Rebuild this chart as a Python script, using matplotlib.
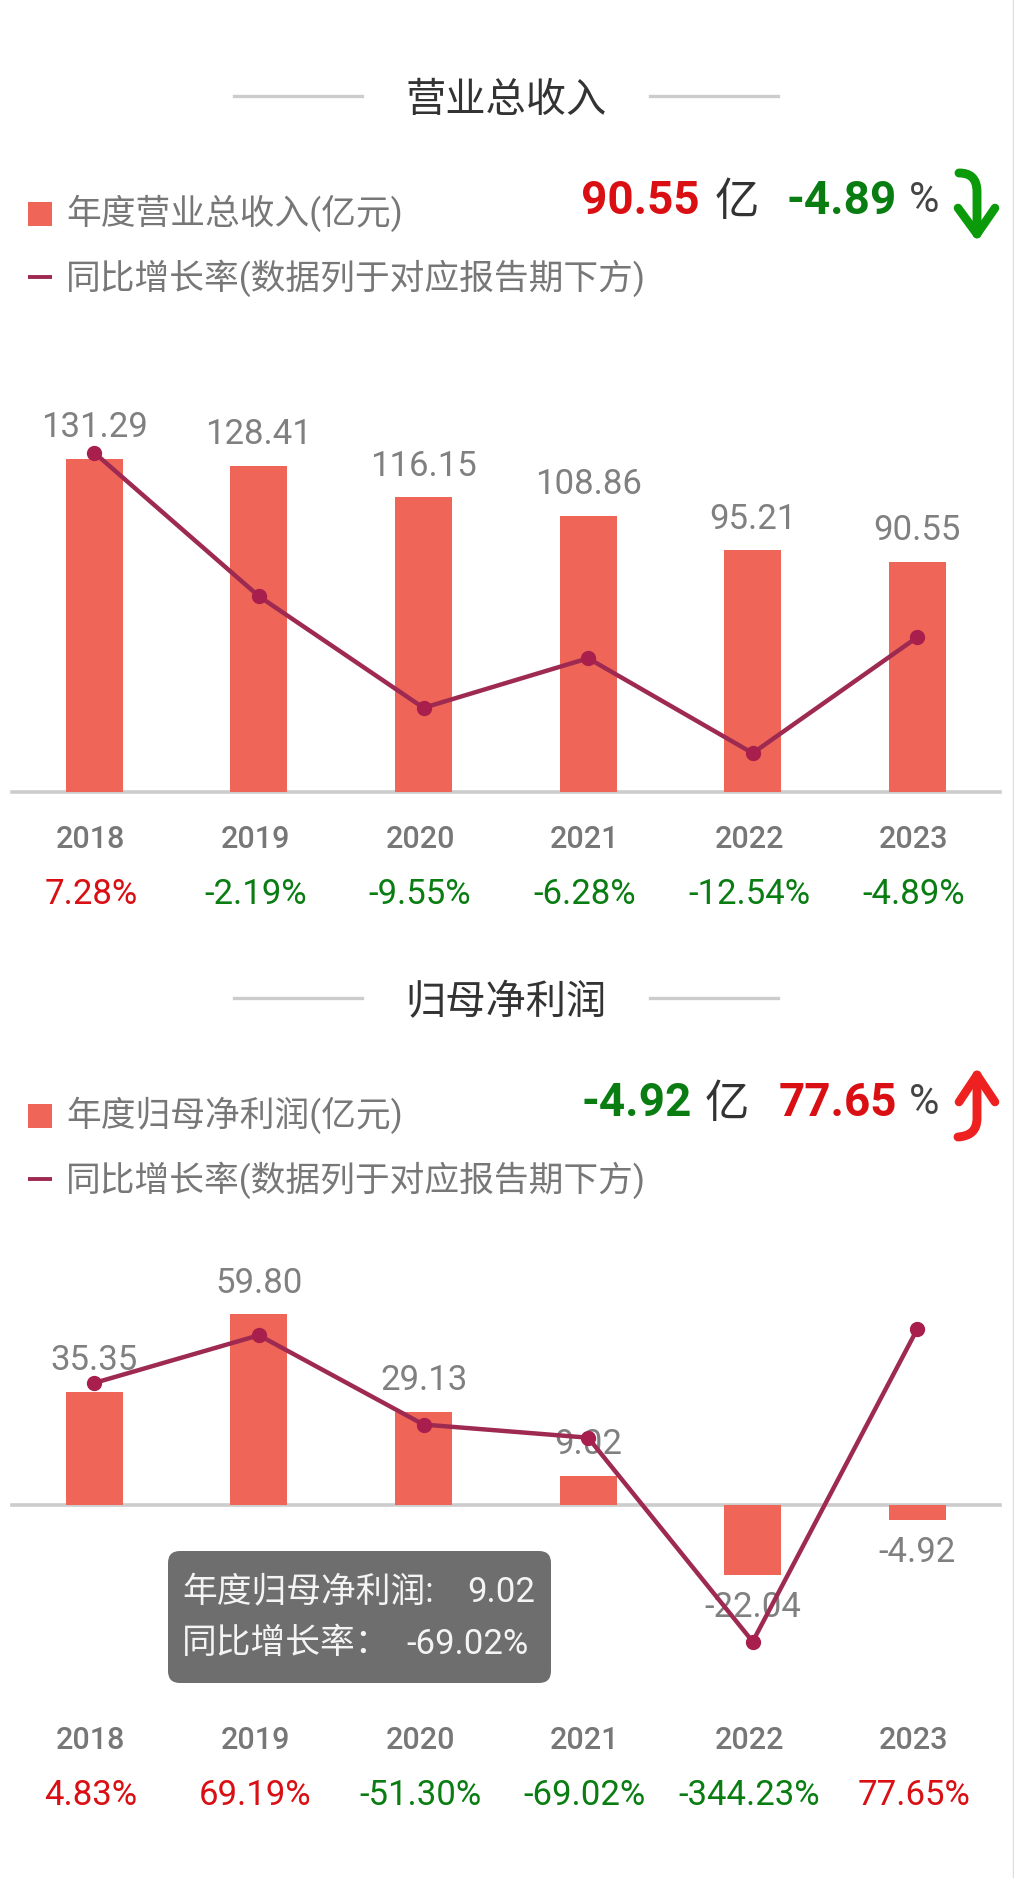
import numpy as np
import matplotlib.pyplot as plt
from matplotlib.patches import FancyBboxPatch, PathPatch, Rectangle
from matplotlib.path import Path

plt.rcParams['font.family'] = ['Roboto', 'Noto Sans CJK SC', 'DejaVu Sans']

years = ['2018', '2019', '2020', '2021', '2022', '2023']
revenue = [131.29, 128.41, 116.15, 108.86, 95.21, 90.55]
revenue_growth = [7.28, -2.19, -9.55, -6.28, -12.54, -4.89]
profit = [35.35, 59.80, 29.13, 9.02, -22.04, -4.92]
profit_growth = [4.83, 69.19, -51.30, -69.02, -344.23, 77.65]

W, H = 1014, 1878
BAR = '#ef6558'
LINE = '#9e2a52'
DOT = '#a81f4d'
GREY = '#777777'
RED = '#d90f14'
GREEN = '#0a7d12'

fig = plt.figure(figsize=(W / 100, H / 100), dpi=100, facecolor='white')

# overlay in pixel coordinates for headers and decorations
over = fig.add_axes([0, 0, 1, 1], zorder=5)
over.set_xlim(0, W)
over.set_ylim(H, 0)
over.axis('off')
over.patch.set_alpha(0)


def rate_color(v):
    return RED if v > 0 else GREEN


def chart(top, bottom, baseline, bar_scale, vals, rates, rate_ref, rate_scale):
    ax = fig.add_axes([12 / W, 1 - bottom / H, 987.6 / W, (bottom - top) / H])
    x = np.arange(len(vals))
    ax.set_xlim(-0.5, 5.5)
    ax.set_ylim((baseline - bottom) / bar_scale, (baseline - top) / bar_scale)
    ax.bar(x, vals, width=0.346, color=BAR, zorder=2)
    ax.axhline(0, color='#cccccc', lw=2.6, zorder=1, clip_on=False)
    for s in ax.spines.values():
        s.set_visible(False)
    ax.set_yticks([])
    ax.set_xticks(x - 0.021, years)
    ax.tick_params(axis='x', length=0, pad=24, labelsize=22, labelcolor=GREY)
    for lab in ax.get_xticklabels():
        lab.set_fontweight('medium')
    for i, v in enumerate(vals):
        off = 31 if v >= 0 else -32.5
        ax.annotate(f'{v:.2f}', (i, v), xytext=(0, off), textcoords='offset pixels',
                    ha='center', va='center', fontsize=25, color='#808080', zorder=3)
        ax.annotate(f'{rates[i]:.2f}%', (i - 0.021, 0), xycoords=ax.get_xaxis_transform(),
                    xytext=(0, -102.5), textcoords='offset pixels', ha='center', va='center',
                    fontsize=25, color=rate_color(rates[i]))
    # growth line on its own linear scale
    ax2 = ax.twinx()
    ref_value, ref_y = rate_ref
    ax2.set_ylim(ref_value - (bottom - ref_y) / rate_scale, ref_value + (ref_y - top) / rate_scale)
    ax2.plot(x, rates, color=LINE, lw=3.2, marker='o', ms=10, mfc=DOT, mec=DOT, clip_on=False)
    ax2.set_yticks([])
    for s in ax2.spines.values():
        s.set_visible(False)
    ax2.patch.set_alpha(0)
    return ax


def header(y0, title, legend_label, value, unit_x, pct, num_right, pct_left, pct_right):
    over.plot([234, 362], [y0 - 1, y0 - 1], color='#cccccc', lw=2.4)
    over.plot([650, 778], [y0 - 1, y0 - 1], color='#cccccc', lw=2.4)
    over.text(506, y0 + 4, title, ha='center', va='center', fontsize=29, color='#333333',
              fontweight='medium')
    over.add_patch(Rectangle((28, y0 + 105), 24, 24, color=BAR, lw=0))
    over.text(66, y0 + 116, legend_label, va='center', fontsize=25, color=GREY)
    over.plot([28, 52], [y0 + 180, y0 + 180], color=LINE, lw=2.8, solid_capstyle='butt')
    over.text(66, y0 + 181, '同比增长率(数据列于对应报告期下方)', va='center', fontsize=25, color=GREY)
    over.text(num_right, y0 + 104, f'{value:.2f}', ha='right', va='center', fontsize=33,
              fontweight='bold', color=rate_color(value))
    over.text(unit_x, y0 + 106, '亿', va='center', fontsize=32, color='#333333')
    over.text(pct_right, y0 + 104, f'{pct:.2f}', ha='right', va='center', fontsize=33,
              fontweight='bold', color=rate_color(pct))
    over.text(pct_left, y0 + 104, '%', va='center', fontsize=30, color='#444444')


def arrow(shaft, head, color):
    codes = [Path.MOVETO, Path.CURVE4, Path.CURVE4, Path.CURVE4, Path.LINETO]
    over.add_patch(PathPatch(Path(shaft, codes), fc='none', ec=color, lw=6.4,
                             capstyle='round', joinstyle='round'))
    over.add_patch(PathPatch(Path(head, [Path.MOVETO, Path.LINETO, Path.LINETO]), fc='none', ec=color,
                             lw=6.2, capstyle='round', joinstyle='round'))


header(97, '营业总收入', '年度营业总收入(亿元)', revenue[-1], 715, revenue_growth[-1], 700, 909, 897)
header(999, '归母净利润', '年度归母净利润(亿元)', profit[-1], 705, profit_growth[-1], 692, 909, 897)

chart(400, 791.5, 791.5, 2.535, revenue, revenue_growth, (7.28, 452.7), 15.16)
chart(1270, 1693, 1504.5, 3.185, profit, profit_growth, (77.65, 1329), 0.741)

# hand drawn arrows
arrow([(959, 173), (970, 173), (977, 178), (977, 192), (977, 234)],
      [(958, 208), (977, 234), (995, 208)], '#0a9a0a')
arrow([(958, 1137), (970, 1136), (977, 1131), (977, 1118), (977, 1075)],
      [(959, 1102), (977, 1075), (995, 1102)], '#ee2020')

# tooltip
over.add_patch(FancyBboxPatch((176, 1559), 367, 116, boxstyle='round,pad=8,rounding_size=12',
                              fc='#6e6e6e', ec='none'))
over.text(182, 1593, '年度归母净利润:', va='center', fontsize=25, color='#f4f4f4')
over.text(535, 1593, f'{profit[3]:.2f}', ha='right', va='center', fontsize=25, color='#f4f4f4')
over.text(182, 1644, '同比增长率：', va='center', fontsize=25, color='#f4f4f4')
over.text(529, 1644, f'{profit_growth[3]:.2f}%', ha='right', va='center', fontsize=25, color='#f4f4f4')

# thin edge of the screenshot on the right
over.plot([1012.5, 1012.5], [0, H], color='#dddddd', lw=1)

fig.savefig('out.png', dpi=100)
